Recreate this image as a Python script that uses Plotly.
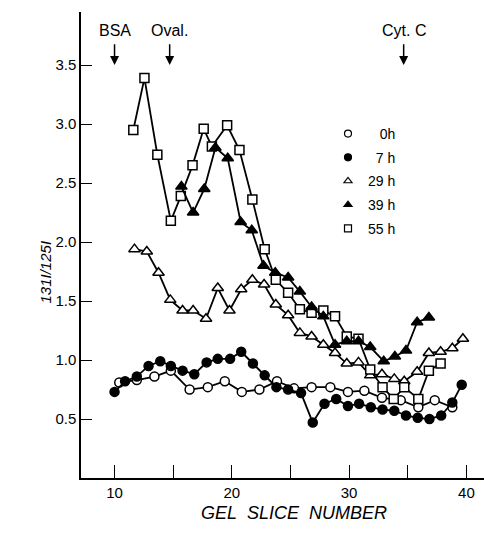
import plotly.graph_objects as go

# ---------------- data ----------------
x_0h = [10.4, 11.9, 13.4, 14.8, 16.4, 17.95, 19.4, 20.85, 22.35, 23.85, 25.3, 26.8,
        28.4, 29.9, 31.3, 32.8, 34.4, 35.9, 37.3, 38.8]
y_0h = [0.81, 0.83, 0.86, 0.91, 0.75, 0.77, 0.82, 0.73, 0.75, 0.82, 0.76, 0.77,
        0.77, 0.73, 0.74, 0.68, 0.66, 0.60, 0.66, 0.60]

x_7h = [10.0, 10.9, 11.9, 12.9, 13.9, 14.8, 15.8, 16.8, 17.85, 18.8, 19.85, 20.8,
        21.8, 22.8, 23.8, 24.8, 25.9, 26.9, 27.9, 28.9, 29.9, 30.85, 31.85, 32.85,
        33.85, 34.85, 35.85, 36.85, 37.85, 38.8, 39.6]
y_7h = [0.73, 0.82, 0.86, 0.95, 0.99, 0.95, 0.91, 0.88, 0.98, 1.01, 1.01, 1.07,
        0.97, 0.87, 0.77, 0.75, 0.72, 0.47, 0.63, 0.67, 0.61, 0.63, 0.60, 0.58,
        0.57, 0.53, 0.51, 0.50, 0.53, 0.64, 0.79]

x_29h = [11.7, 12.75, 13.75, 14.75, 15.8, 16.7, 17.8, 18.8, 19.8, 20.8, 21.75, 22.75,
         23.75, 24.8, 25.8, 26.8, 27.8, 28.8, 29.8, 30.8, 31.8, 32.8, 33.85, 34.7,
         35.8, 36.8, 37.8, 38.8, 39.7]
y_29h = [1.94, 1.92, 1.74, 1.51, 1.42, 1.42, 1.35, 1.61, 1.42, 1.60, 1.68, 1.64,
         1.47, 1.38, 1.23, 1.20, 1.13, 1.06, 0.97, 0.98, 0.87, 0.88, 0.84, 0.82,
         0.90, 1.06, 1.07, 1.10, 1.18]

x_39h = [15.7, 16.7, 17.65, 18.6, 19.65, 20.75, 21.7, 22.7, 23.7, 24.8, 25.8, 26.8,
         27.8, 28.8, 29.8, 30.8, 31.8, 32.95, 33.9, 34.85, 35.8, 36.8]
y_39h = [2.47, 2.25, 2.45, 2.80, 2.71, 2.17, 2.10, 1.80, 1.74, 1.70, 1.58, 1.45,
         1.37, 1.13, 1.16, 1.16, 1.11, 0.99, 1.03, 1.08, 1.32, 1.36]

x_55h = [11.6, 12.55, 13.65, 14.8, 15.65, 16.65, 17.6, 18.3, 19.6, 20.65, 21.75, 22.8,
         23.75, 24.8, 25.8, 26.8, 27.8, 28.8, 29.8, 30.8, 31.8, 32.85, 33.8, 34.7,
         35.9, 36.8, 37.8]
y_55h = [2.95, 3.39, 2.74, 2.18, 2.39, 2.65, 2.96, 2.81, 2.99, 2.78, 2.36, 1.94,
         1.68, 1.57, 1.43, 1.40, 1.42, 1.37, 1.20, 1.18, 0.92, 0.77, 0.67, 0.77,
         0.67, 0.91, 0.97]

series_names = ["0h", "7 h", "29 h", "39 h", "55 h"]
legend_labels = ["\u2007\u00a00h", "\u20077 h", "29 h", "39 h", "55 h"]

markers_xy = ["BSA", "Oval.", "Cyt. C"]
markers_x = [10.0, 14.7, 34.65]

x_tickvals = [10, 15, 20, 25, 30, 35, 40]
x_ticktext = ["10", "", "20", "", "30", "", "40"]
y_tickvals = [0.5, 1.0, 1.5, 2.0, 2.5, 3.0, 3.5]
y_ticktext = ["0.5", "1.0", "1.5", "2.0", "2.5", "3.0", "3.5"]

# ---------------- styles ----------------
FONT = "Liberation Sans Narrow, Liberation Sans, Arial, sans-serif"
BLACK = "black"
styles = [
    dict(symbol="circle", color="white", size=9),
    dict(symbol="circle", color=BLACK, size=9),
    dict(symbol="triangle-up", color="white", size=10),
    dict(symbol="triangle-up", color=BLACK, size=10),
    dict(symbol="square", color="white", size=9),
]
data = [(x_0h, y_0h), (x_7h, y_7h), (x_29h, y_29h), (x_39h, y_39h), (x_55h, y_55h)]

fig = go.Figure()
draw_order = [2, 0, 1, 4, 3]
for i in draw_order:
    xs, ys = data[i]
    st = styles[i]
    fig.add_trace(go.Scatter(
        x=xs, y=ys, mode="lines+markers", showlegend=False,
        line=dict(color=BLACK, width=1.8),
        marker=dict(symbol=st["symbol"], size=st["size"], color=st["color"],
                    line=dict(color=BLACK, width=1.5)),
        name=series_names[i]))

# legend-only entries (symbols without lines)
for i in range(5):
    st = styles[i]
    fig.add_trace(go.Scatter(
        x=[None], y=[None], mode="markers", name=legend_labels[i],
        legendgroup=f"g{i}",
        marker=dict(symbol=st["symbol"], size=7, color=st["color"],
                    line=dict(color=BLACK, width=1.2))))

# protein marker arrows
for lab, xv in zip(markers_xy, markers_x):
    fig.add_annotation(x=xv, y=3.5, ax=xv, ay=3.69, xref="x", yref="y",
                       axref="x", ayref="y", text="", showarrow=True,
                       arrowhead=2, arrowsize=1.2, arrowwidth=1.5, arrowcolor=BLACK)
    fig.add_annotation(x=xv, y=3.79, xref="x", yref="y", text=lab, showarrow=False,
                       font=dict(family=FONT, size=16, color=BLACK))

# axis titles
fig.add_annotation(x=(294 - 81) / 403, y=(478 - 525) / 466, xref="paper", yref="paper",
                   text="<i>GEL\u00a0 SLICE\u00a0 NUMBER</i>", showarrow=False,
                   font=dict(family=FONT, size=18, color=BLACK))
fig.add_annotation(x=(34 - 81) / 403, y=(478 - 272) / 466, xref="paper", yref="paper",
                   text="<i>131I/125I</i>", showarrow=False, textangle=-90,
                   font=dict(family=FONT, size=15, color=BLACK))

fig.update_layout(
    width=484, height=533,
    margin=dict(l=81, r=0, t=12, b=55),
    paper_bgcolor="white", plot_bgcolor="white",
    font=dict(family=FONT, size=15, color=BLACK),
    legend=dict(x=(328 - 81) / 403, y=(478 - 118) / 466, xanchor="left", yanchor="top",
                font=dict(family=FONT, size=14, color=BLACK),
                bgcolor="rgba(0,0,0,0)", tracegroupgap=2.5),
    xaxis=dict(range=[7.14, 41.5], tickvals=x_tickvals, ticktext=x_ticktext,
               ticks="inside", ticklen=13, tickwidth=1.3, tickcolor=BLACK,
               showline=True, linecolor=BLACK, linewidth=1.5, showgrid=False,
               zeroline=False, tickfont=dict(size=15)),
    yaxis=dict(range=[0, 3.95], tickvals=y_tickvals, ticktext=y_ticktext,
               ticks="inside", ticklen=11, tickwidth=1.3, tickcolor=BLACK,
               showline=True, linecolor=BLACK, linewidth=1.5, showgrid=False,
               zeroline=False, tickfont=dict(size=15)),
)

fig.write_html("out.html")
